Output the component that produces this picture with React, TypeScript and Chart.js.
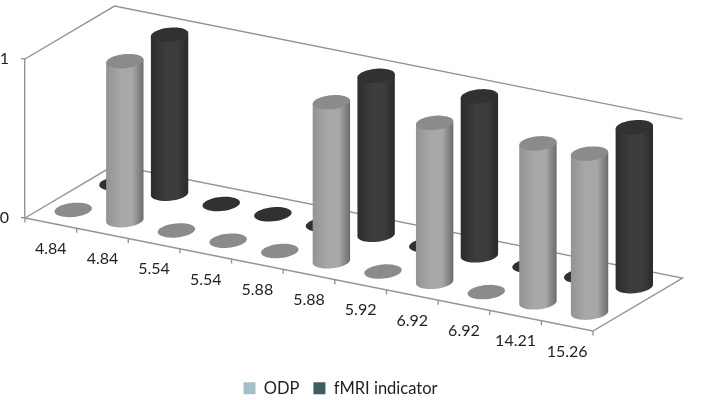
import React, { useEffect, useRef } from "react";
import { Chart, registerables } from "chart.js";

Chart.register(...registerables);

const categories = ["4.84", "4.84", "5.54", "5.54", "5.88", "5.88", "5.92", "6.92", "6.92", "14.21", "15.26"];
const odpValues = [0, 1, 0, 0, 0, 1, 0, 1, 0, 1, 1];
const fmriValues = [0, 1, 0, 0, 0, 1, 0, 1, 0, 0, 1];
const axisColor = "#8d9797";
const labelColor = "#1f1f1f";
const FONT = "Lato";

// oblique projection of the floor
const DEPTH_X = 89.5;
const DEPTH_Y = -52.9;
const SLOPE = 113 / 568;
const RX = 0.29; // cylinder radius along a category, as a share of the category step
const RD = 0.125; // cylinder radius along the depth axis

const series = [
  { depth: 0.75, values: fmriValues, cap: "#313131", stops: ["#2c2c2c", "#3d3d3d", "#2a2a2a"] },
  { depth: 0.25, values: odpValues, cap: "#8b8b8b", stops: ["#939393", "#a8a8a8", "#6c6c6c"] },
];

const cylinderPlugin = {
  id: "cylinders",
  afterLayout(chart: any) {
    const lg = chart.legend;
    const w = lg.right - lg.left;
    const h = lg.bottom - lg.top;
    lg.left = 44;
    lg.right = 44 + w;
    lg.top = 366;
    lg.bottom = 366 + h;
  },
  beforeDatasetsDraw(chart: any) {
    const { ctx, scales } = chart;
    const xs = scales.x;
    const ys = scales.y;
    const step = xs.width / categories.length;
    const stepDY = step * SLOPE;
    const project = (px: number, depth: number, v: number) => ({
      x: px + depth * DEPTH_X,
      y: ys.getPixelForValue(v) + (px - xs.left) * SLOPE + depth * DEPTH_Y,
    });
    const A = project(xs.left, 0, 0);
    const B = project(xs.right, 0, 0);
    const C = project(xs.right, 1, 0);
    const D = project(xs.left, 1, 0);
    const E = project(xs.left, 1, 1);
    const F = project(xs.right, 1, 1);
    const G = project(xs.left, 0, 1);

    ctx.save();
    ctx.strokeStyle = axisColor;
    ctx.lineWidth = 1.4;
    ctx.lineJoin = "miter";
    ctx.beginPath();
    ctx.moveTo(A.x, A.y);
    ctx.lineTo(B.x, B.y);
    ctx.lineTo(C.x, C.y);
    ctx.lineTo(D.x, D.y);
    ctx.lineTo(A.x, A.y);
    ctx.moveTo(G.x, G.y);
    ctx.lineTo(E.x, E.y);
    ctx.lineTo(F.x, F.y);
    for (let i = 0; i <= categories.length; i++) {
      const p = project(xs.left + i * step, 0, 0);
      ctx.moveTo(p.x, p.y);
      ctx.lineTo(p.x, p.y + 4.5);
    }
    ctx.stroke();

    // tick labels follow the front edge of the floor
    ctx.fillStyle = labelColor;
    ctx.font = `16px ${FONT}`;
    ctx.textAlign = "center";
    ctx.textBaseline = "middle";
    xs.ticks.forEach((t: any, i: number) => {
      const p = project(xs.getPixelForTick(i), 0, 0);
      ctx.fillText(t.label, p.x, p.y + 25.5);
    });

    const ell = (c: { x: number; y: number }, t: number) => ({
      x: c.x + RX * step * Math.cos(t) + RD * DEPTH_X * Math.sin(t),
      y: c.y + RX * stepDY * Math.cos(t) + RD * DEPTH_Y * Math.sin(t),
    });
    const tx = Math.atan2(RD * DEPTH_X, RX * step); // parameter of the right-most point
    const N = 48;
    series.forEach((s) => {
      s.values.forEach((v, i) => {
        const px = xs.getPixelForValue(i);
        const base = project(px, s.depth, 0);
        const top = project(px, s.depth, v);
        if (v > 0) {
          const right = ell(base, tx).x;
          const left = ell(base, tx + Math.PI).x;
          const g = ctx.createLinearGradient(left, 0, right, 0);
          g.addColorStop(0, s.stops[0]);
          g.addColorStop(0.4, s.stops[1]);
          g.addColorStop(0.7, s.stops[1]);
          g.addColorStop(1, s.stops[2]);
          ctx.fillStyle = g;
          ctx.beginPath();
          // lower half of the base: from the right-most point, through the front, to the left-most
          for (let k = 0; k <= N; k++) {
            const q = ell(base, tx - (k / N) * Math.PI);
            if (k === 0) ctx.moveTo(q.x, q.y);
            else ctx.lineTo(q.x, q.y);
          }
          const tl = ell(top, tx + Math.PI);
          const tr = ell(top, tx);
          ctx.lineTo(tl.x, tl.y);
          ctx.lineTo(tr.x, tr.y);
          ctx.closePath();
          ctx.fill();
        }
        ctx.fillStyle = s.cap;
        ctx.beginPath();
        for (let k = 0; k <= N; k++) {
          const q = ell(top, (k / N) * Math.PI * 2);
          if (k === 0) ctx.moveTo(q.x, q.y);
          else ctx.lineTo(q.x, q.y);
        }
        ctx.closePath();
        ctx.fill();
      });
    });
    ctx.restore();
    return false;
  },
};

export default function App() {
  const ref = useRef<HTMLCanvasElement>(null);
  useEffect(() => {
    const chart = new Chart(ref.current!, {
      type: "bar",
      data: {
        labels: categories,
        datasets: [
          { label: "ODP", data: odpValues, backgroundColor: "#a5bfca" },
          { label: "fMRI indicator", data: fmriValues, backgroundColor: "#3f5d5f" },
        ],
      },
      options: {
        responsive: false,
        animation: false,
        layout: { padding: { top: 59, right: 116, left: 0, bottom: 0 } },
        plugins: {
          tooltip: { enabled: false },
          legend: {
            position: "bottom",
            labels: {
              boxWidth: 12,
              boxHeight: 12,
              padding: 14,
              color: labelColor,
              font: { family: FONT, size: 16.5 },
            },
          },
        },
        scales: {
          x: {
            grid: { display: false },
            border: { display: false },
            ticks: { display: false, autoSkip: false },
            afterFit: (s: any) => {
              s.height = 400 - 218 - (s.chart.legend?.height ?? 50);
            },
          },
          y: {
            min: 0,
            max: 1,
            afterFit: (s: any) => {
              s.width = 25;
            },
            border: { display: true, color: axisColor, width: 1.4 },
            grid: { drawOnChartArea: false, drawTicks: true, tickLength: 4, color: axisColor, lineWidth: 1.4 },
            ticks: { stepSize: 1, padding: 12, color: labelColor, font: { family: FONT, size: 16 } },
          },
        },
      },
      plugins: [cylinderPlugin],
    } as any);
    return () => chart.destroy();
  }, []);
  return (
    <div style={{ position: "absolute", left: 0, top: 0, width: 709, height: 400, background: "#fff" }}>
      <canvas ref={ref} width={709} height={400} style={{ display: "block" }} />
    </div>
  );
}
